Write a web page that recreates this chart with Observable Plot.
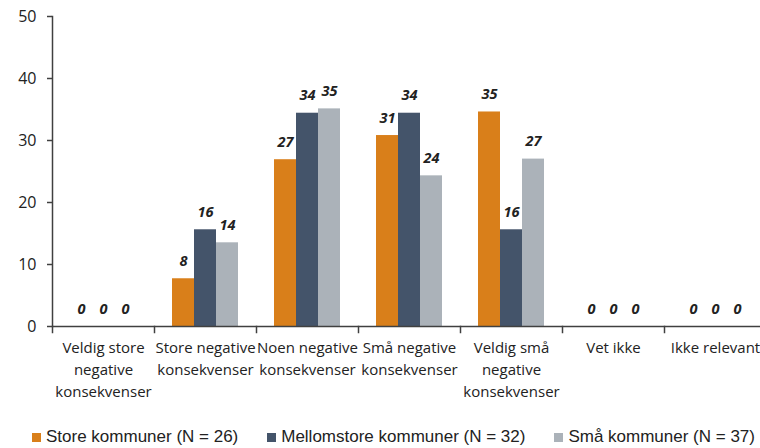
<!DOCTYPE html>
<html><head><meta charset="utf-8">
<script src="https://cdn.jsdelivr.net/npm/d3@7"></script>
<script src="https://cdn.jsdelivr.net/npm/@observablehq/plot@0.6"></script>
<style>
body{margin:0;background:#fff;width:760px;height:448px;overflow:hidden;position:relative;}
#legend{position:absolute;left:32px;width:723px;top:427px;height:20px;line-height:20px;display:flex;justify-content:space-between;align-items:center;font-family:"Liberation Sans",Arial,sans-serif;font-size:17px;color:#222;white-space:nowrap;}
#legend .item{display:flex;align-items:center;}
#legend .sw{width:9px;height:9px;margin-right:5px;display:inline-block;}
</style></head><body>
<div id="chart"></div>
<div id="legend"></div>
<script>
const categories = [
  "Veldig store\nnegative\nkonsekvenser",
  "Store negative\nkonsekvenser",
  "Noen negative\nkonsekvenser",
  "Små negative\nkonsekvenser",
  "Veldig små\nnegative\nkonsekvenser",
  "Vet ikke",
  "Ikke relevant"
];
const series = ["Store kommuner (N = 26)", "Mellomstore kommuner (N = 32)", "Små kommuner (N = 37)"];
const storeValues = [0, 7.7, 26.9, 30.8, 34.6, 0, 0];
const mellomValues = [0, 15.6, 34.4, 34.4, 15.6, 0, 0];
const smaValues = [0, 13.5, 35.1, 24.3, 27.0, 0, 0];
const colors = ["#D97F1A", "#44546A", "#ABB2B9"];
const yTicks = [0, 10, 20, 30, 40, 50];

const seriesValues = [storeValues, mellomValues, smaValues];
const data = [];
series.forEach((s, si) => seriesValues[si].forEach((v, ci) => data.push({category: categories[ci], series: s, value: v})));

const axisColor = "#404040";
const chart = Plot.plot({
  width: 760, height: 410,
  marginLeft: 51, marginRight: 0, marginTop: 16, marginBottom: 84,
  style: {fontFamily: "'Open Sans', sans-serif", fontSize: "15px", color: "#222", background: "white"},
  fx: {domain: categories, padding: 0, range: [51, 767], label: null},
  x: {domain: series, paddingInner: 0, paddingOuter: 0.75, axis: null},
  y: {domain: [0, 50], label: null},
  color: {domain: series, range: colors},
  marks: [
    Plot.barY(data, {fx: "category", x: "series", y: "value", fill: "series"}),
    Plot.text(data, {fx: "category", x: "series", y: "value", text: d => d3.format(".0f")(d.value),
      lineAnchor: "bottom", dy: -13, fontWeight: "bold", fontStyle: "italic", fontSize: 14.5, fill: "#222"}),
    Plot.ruleY([0], {stroke: axisColor, strokeWidth: 1.5}),
    Plot.frame({anchor: "left", insetTop: 310, insetBottom: -6, stroke: axisColor, strokeWidth: 1.5}),
    Plot.frame({anchor: "left", facetAnchor: "left", stroke: axisColor, strokeWidth: 1.5}),
    Plot.axisY({ticks: yTicks, tickSize: 5, tickPadding: 11, fontSize: 16, stroke: axisColor, strokeWidth: 1.5, color: "#222", label: null}),
    Plot.axisFx({anchor: "bottom", tickSize: 0, tickPadding: 11, lineHeight: 1.47, fontSize: 15, label: null, fill: "#222"})
  ]
});
document.getElementById("chart").appendChild(chart);

const legend = document.getElementById("legend");
series.forEach((s, i) => {
  const item = document.createElement("span");
  item.className = "item";
  const sw = document.createElement("span");
  sw.className = "sw";
  sw.style.background = colors[i];
  item.appendChild(sw);
  item.appendChild(document.createTextNode(s));
  legend.appendChild(item);
});
</script>
</body></html>
